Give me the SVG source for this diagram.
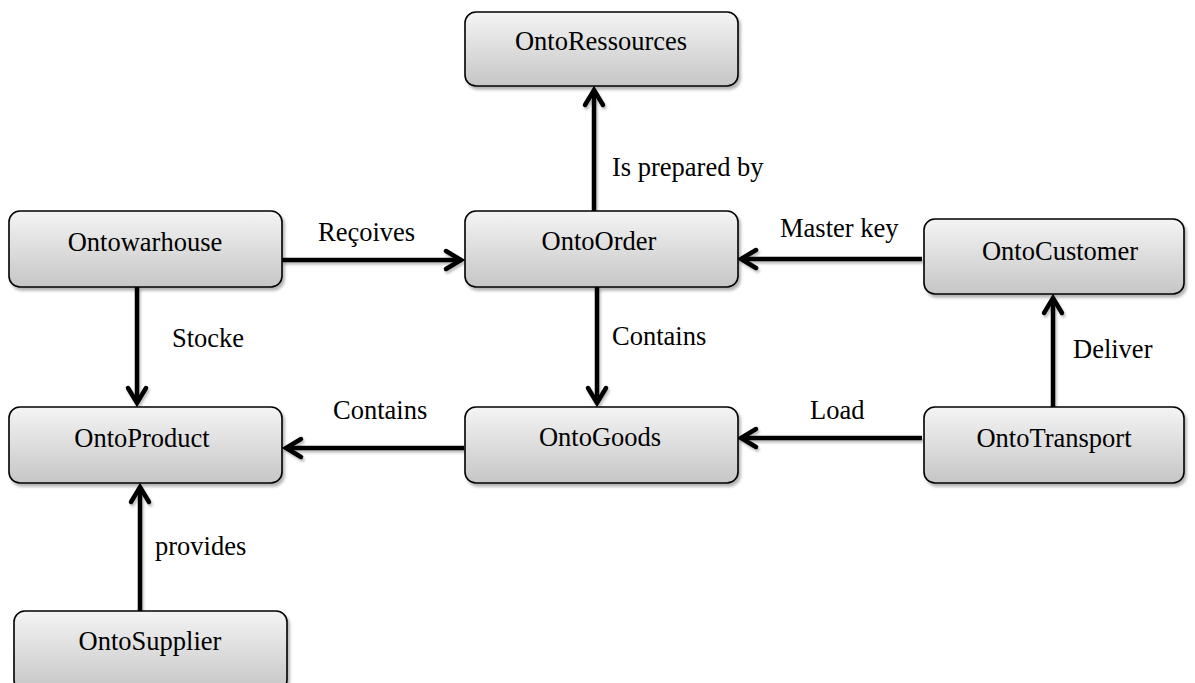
<svg xmlns="http://www.w3.org/2000/svg" width="1195" height="683" viewBox="0 0 1195 683">
<style>
.box{fill:url(#g);stroke:#000;stroke-width:1.6;filter:url(#sh)}
.t{font-family:"Liberation Serif","Times New Roman",serif;font-size:26.5px;fill:#000;text-anchor:middle}
.l{font-family:"Liberation Serif","Times New Roman",serif;font-size:26.5px;fill:#000}
.e{stroke:#000;stroke-width:4.5;fill:none;marker-end:url(#a)}
</style>
<defs>
<linearGradient id="g" x1="0" y1="0" x2="0" y2="1">
<stop offset="0" stop-color="#f4f4f4"/>
<stop offset="1" stop-color="#c6c6c6"/>
</linearGradient>
<filter id="sh" x="-10%" y="-10%" width="120%" height="130%">
<feDropShadow dx="2" dy="3" stdDeviation="1.5" flood-color="#000" flood-opacity="0.3"/>
</filter>
<filter id="sh2" filterUnits="userSpaceOnUse" x="0" y="0" width="1195" height="683">
<feDropShadow dx="1.5" dy="2.5" stdDeviation="1" flood-color="#000" flood-opacity="0.25"/>
</filter>
<marker id="a" markerUnits="userSpaceOnUse" markerWidth="30" markerHeight="30" refX="0" refY="0" viewBox="-20 -15 24 30" orient="auto" overflow="visible">
<path d="M-15,-9 L0,0 L-15,9" fill="none" stroke="#000" stroke-width="4.5" stroke-linecap="round" stroke-linejoin="miter"/>
</marker>
</defs>
<rect width="1195" height="683" fill="#fff"/>
<g id="connectors">
<g filter="url(#sh2)">
<line class="e" x1="594" y1="211" x2="594" y2="90"/>
<line class="e" x1="282" y1="260" x2="461" y2="260"/>
<line class="e" x1="922" y1="259" x2="741" y2="259"/>
<line class="e" x1="137" y1="287" x2="137" y2="403"/>
<line class="e" x1="597" y1="287" x2="597" y2="403"/>
<line class="e" x1="464" y1="448" x2="286" y2="448"/>
<line class="e" x1="922" y1="438" x2="741" y2="438"/>
<line class="e" x1="1053" y1="407" x2="1053" y2="298"/>
<line class="e" x1="140" y1="611" x2="140" y2="487"/>
</g>
<text class="l" x="612" y="176">Is prepared by</text>
<text class="l" x="318" y="241">Reçoives</text>
<text class="l" x="780" y="237">Master key</text>
<text class="l" x="172" y="347">Stocke</text>
<text class="l" x="612" y="345">Contains</text>
<text class="l" x="333" y="419">Contains</text>
<text class="l" x="810" y="419">Load</text>
<text class="l" x="1073" y="358">Deliver</text>
<text class="l" x="155" y="555">provides</text>
</g>
<g id="OntoRessources"><rect class="box" x="465" y="12" width="273" height="74" rx="11"/><text class="t" x="601" y="50">OntoRessources</text></g>
<g id="Ontowarhouse"><rect class="box" x="9" y="211" width="273" height="76" rx="11"/><text class="t" x="145" y="251">Ontowarhouse</text></g>
<g id="OntoOrder"><rect class="box" x="465" y="211" width="273" height="76" rx="11"/><text class="t" x="599" y="250">OntoOrder</text></g>
<g id="OntoCustomer"><rect class="box" x="924" y="219" width="260" height="75" rx="11"/><text class="t" x="1060" y="260">OntoCustomer</text></g>
<g id="OntoProduct"><rect class="box" x="9" y="407" width="273" height="76" rx="11"/><text class="t" x="142" y="447">OntoProduct</text></g>
<g id="OntoGoods"><rect class="box" x="465" y="407" width="273" height="76" rx="11"/><text class="t" x="600" y="446">OntoGoods</text></g>
<g id="OntoTransport"><rect class="box" x="924" y="407" width="260" height="76" rx="11"/><text class="t" x="1054" y="447">OntoTransport</text></g>
<g id="OntoSupplier"><rect class="box" x="14" y="611" width="273" height="80" rx="11"/><text class="t" x="150" y="650">OntoSupplier</text></g>
</svg>
